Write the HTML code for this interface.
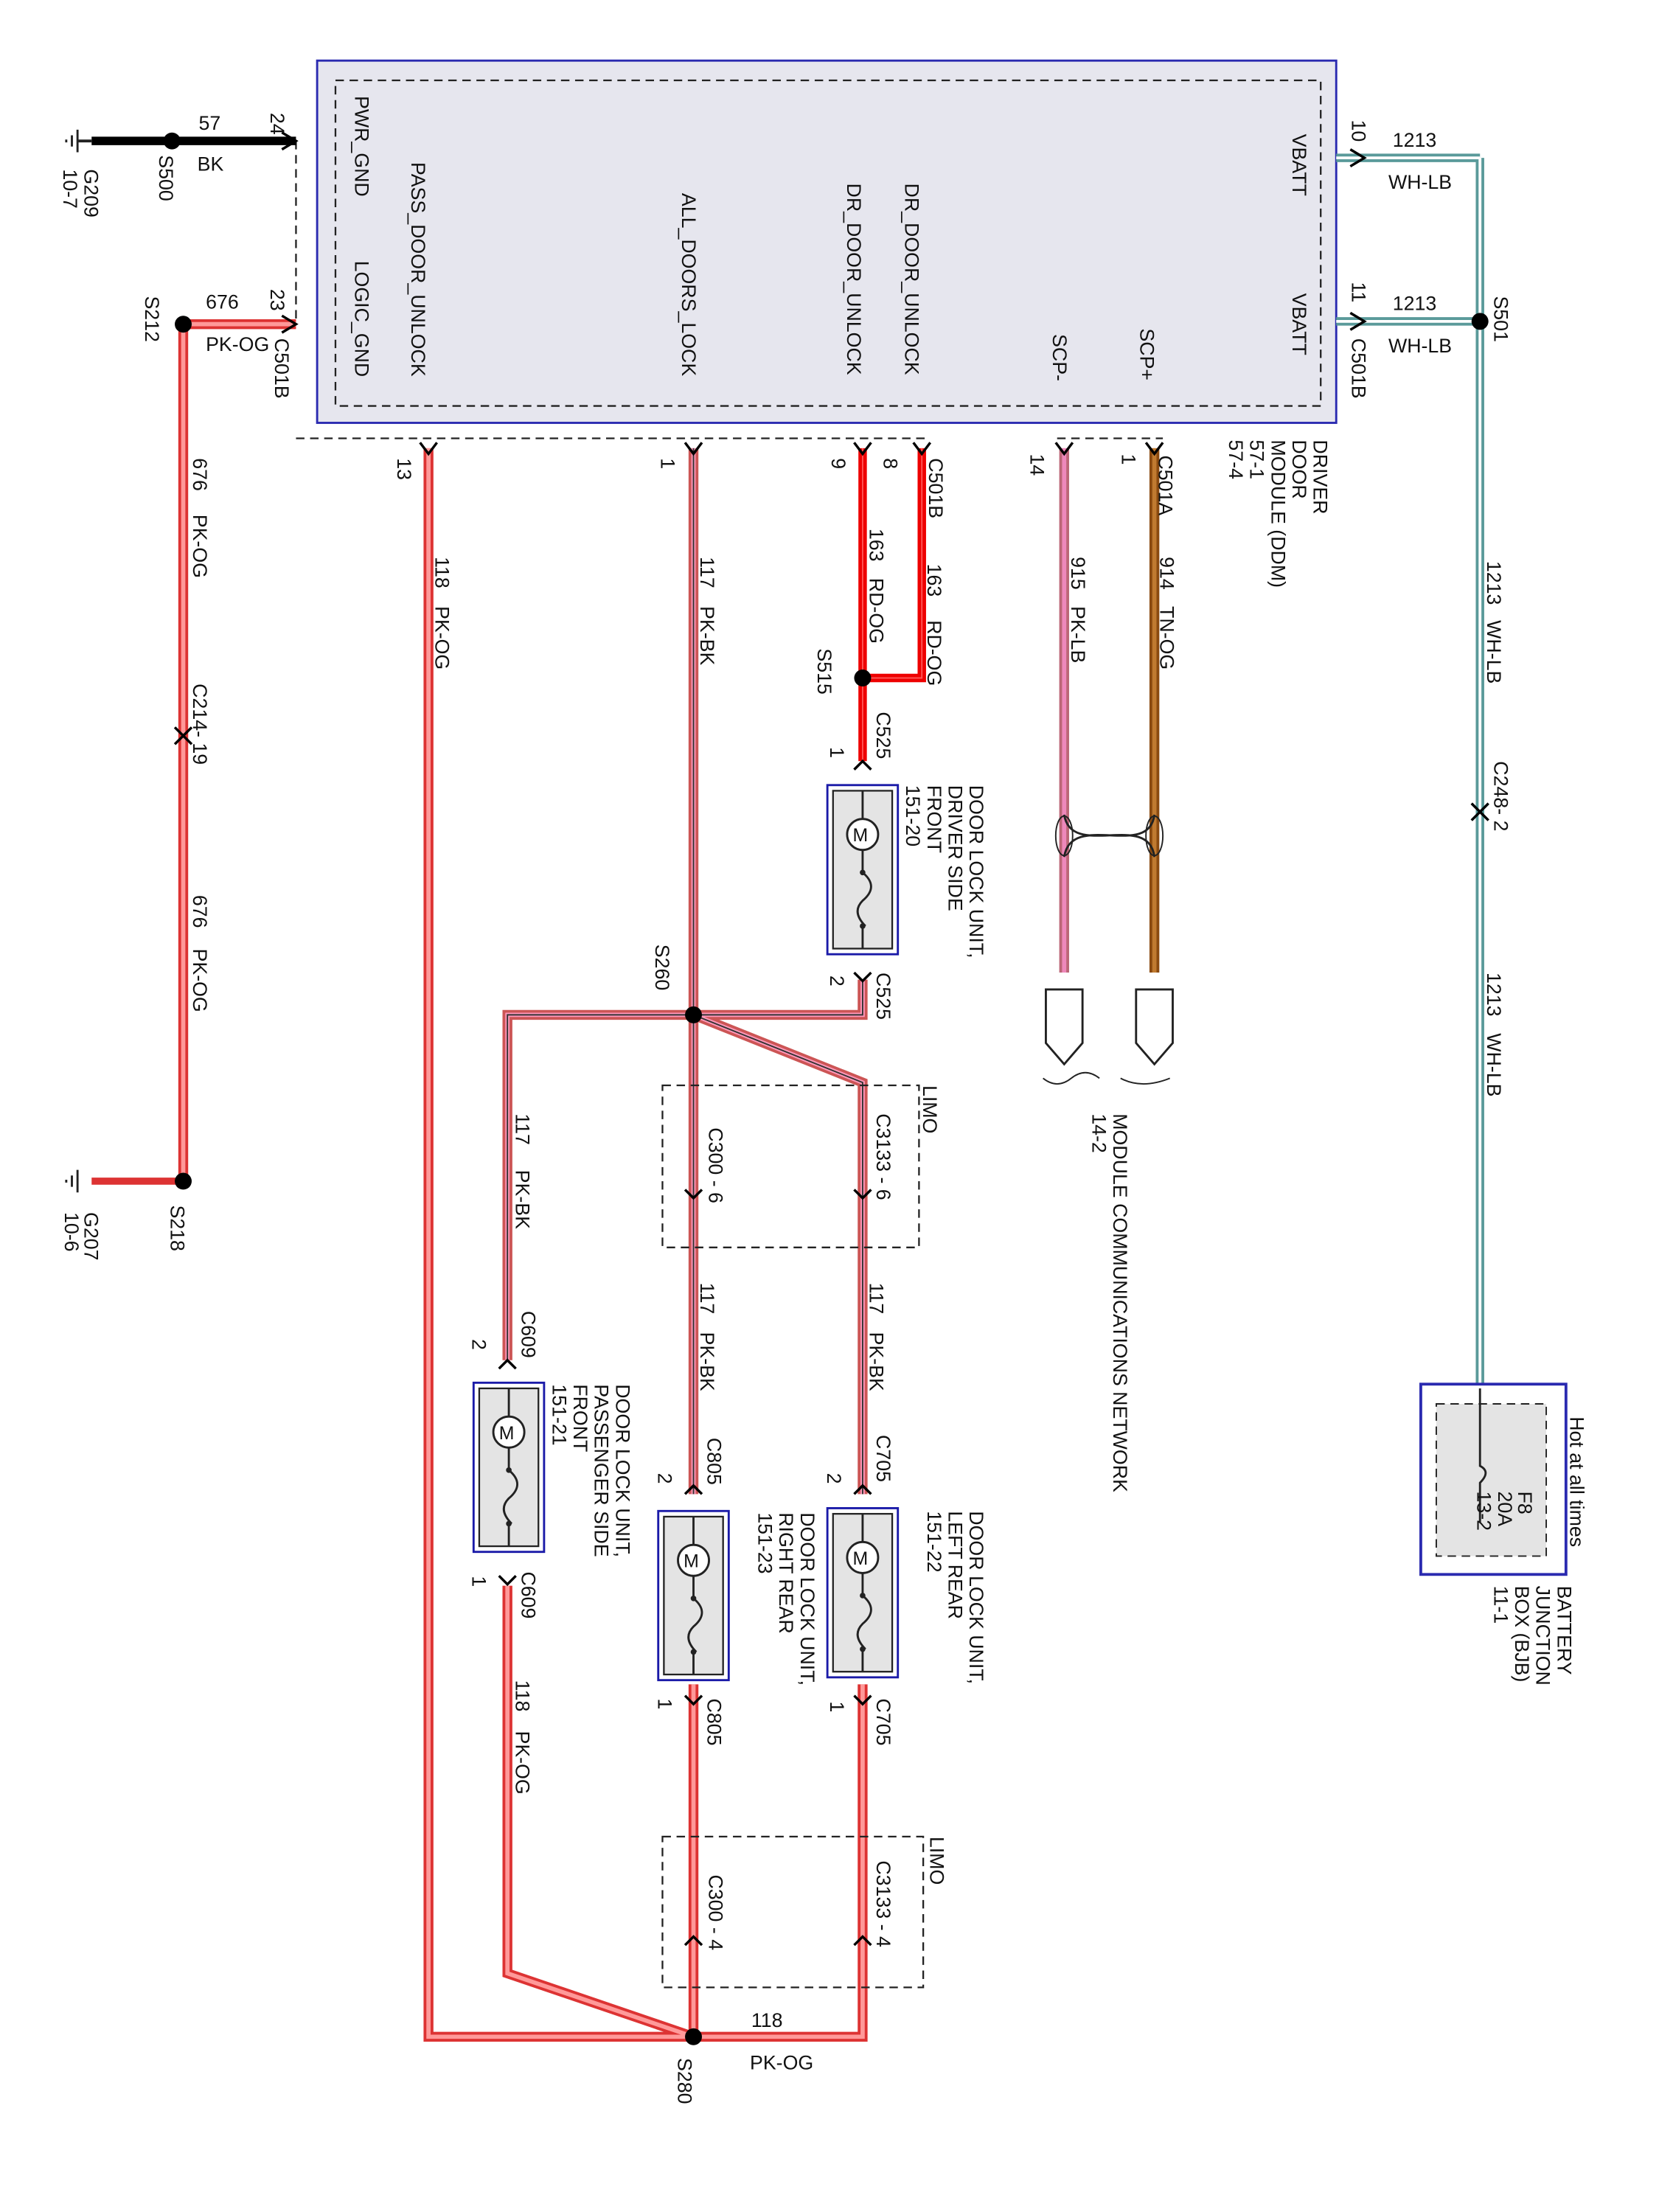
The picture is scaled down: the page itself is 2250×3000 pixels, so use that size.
<!DOCTYPE html>
<html><head><meta charset="utf-8"><style>
html,body{margin:0;padding:0;background:#fff}
svg{display:block}
text{font-family:"Liberation Sans",Arial,sans-serif;font-size:14px;fill:#111}
</style></head><body>
<svg width="2250" height="3000" viewBox="0 0 1177 1569" preserveAspectRatio="xMinYMin meet" xmlns="http://www.w3.org/2000/svg">
<defs>
<g id="dev">
<rect x="0" y="0" width="50" height="120" fill="#fff" stroke="#1a1aa8" stroke-width="1.5"/>
<rect x="4" y="4" width="42" height="112" fill="#e4e4e4" stroke="#222" stroke-width="1.2"/>
<circle cx="25" cy="35" r="11" fill="#fff" stroke="#222" stroke-width="1.5"/>
<text x="18" y="40" style="font-size:13px">M</text>
<path d="M25 4 V24 M25 46 V62 M25 62 q12 10 0 20 q-8 8 2 18 M25 100 V116" fill="none" stroke="#222" stroke-width="1.5"/>
<circle cx="25" cy="62" r="2" fill="#222"/><circle cx="25" cy="100" r="2" fill="#222"/>
</g>
</defs>

<rect x="225" y="43" width="723" height="257" fill="#e6e6ee" stroke="#2a2ab0" stroke-width="1.5"/>
<rect x="238" y="57" width="699" height="231" fill="none" stroke="#222" stroke-width="1.2" stroke-dasharray="6,4"/>
<path d="M210 311 H660 M750 311 H825 M210 100 V230" fill="none" stroke="#222" stroke-width="1.2" stroke-dasharray="6,4"/>

<path d="M65 100 H210" stroke="#000" stroke-width="6"/>
<path d="M55 92 V108 M51 96 V104 M47 99 V101" stroke="#222" stroke-width="1.5"/>
<path d="M55 100 H65" stroke="#222" stroke-width="2"/>
<g fill="none" stroke-linejoin="miter">
<path d="M130 230 H210 M130 230 V838" stroke="#d33" stroke-width="7"/>
<path d="M130 230 H210 M130 230 V838" stroke="#f99" stroke-width="3"/>
<path d="M65 838 H130" stroke="#d33" stroke-width="5"/>
<path d="M55 830 V846 M51 834 V842 M47 837 V839" stroke="#222" stroke-width="1.5"/>
<path d="M304 318 V1445 H612 V1195 M492 1445 V1195 M360 1125 V1400 L492 1445" stroke="#d33" stroke-width="7"/>
<path d="M304 318 V1445 H612 V1195 M492 1445 V1195 M360 1125 V1400 L492 1445" stroke="#f99" stroke-width="3"/>
<path d="M492 318 V1060 M360 965 V720 H612 V695 M492 720 L612 768 V1060" stroke="#c55" stroke-width="7"/>
<path d="M492 318 V1060 M360 965 V720 H612 V695 M492 720 L612 768 V1060" stroke="#f9b" stroke-width="3"/>
<path d="M492 318 V1060 M360 965 V720 H612 V695 M492 720 L612 768 V1060" stroke="#333" stroke-width="1"/>
<path d="M612 318 V540 M654 318 V481 H612" stroke="#e00" stroke-width="6"/>
<path d="M612 318 V540 M654 318 V481 H612" stroke="#f55" stroke-width="1"/>
<path d="M755 318 V690" stroke="#b67" stroke-width="7"/>
<path d="M755 318 V690" stroke="#e8b" stroke-width="3"/>
<path d="M819 318 V690" stroke="#8a4a10" stroke-width="7"/>
<path d="M819 318 V690" stroke="#c07a30" stroke-width="3"/>
<path d="M755 578 C760 610 815 575 819 608 M819 578 C815 610 760 575 755 608" stroke="#222" stroke-width="1.5"/>
<ellipse cx="755" cy="593" rx="6" ry="14" stroke="#222"/>
<ellipse cx="819" cy="593" rx="6" ry="14" stroke="#222"/>
<path d="M948 112 H1050 M948 228 H1050 M1050 112 V985" stroke="#5a9a9a" stroke-width="6"/>
<path d="M948 112 H1050 M948 228 H1050 M1050 112 V985" stroke="#fff" stroke-width="2"/>
</g>

<path d="M742 702 H768 V740 L755 755 L742 740 Z M806 702 H832 V740 L819 755 L806 740 Z" fill="#fff" stroke="#222" stroke-width="1.5"/>
<path d="M740 765 q10 8 20 0 q10 -8 20 0 M795 765 q15 8 35 0" fill="none" stroke="#222"/>

<g fill="none" stroke="#000" stroke-width="1.8">
<path d="M200 94 L210 100 L200 106 M200 224 L210 230 L200 236"/>
<path d="M298 314 L304 322 L310 314 M486 314 L492 322 L498 314 M606 314 L612 322 L618 314 M648 314 L654 322 L660 314 M749 314 L755 322 L761 314 M813 314 L819 322 L825 314"/>
<path d="M958 106 L968 112 L958 118 M958 222 L968 228 L958 234"/>
<path d="M124 516 L130 522 L136 516 M124 528 L130 522 L136 528"/>
<path d="M1044 570 L1050 576 L1056 570 M1044 582 L1050 576 L1056 582"/>
<path d="M606 546 L612 540 L618 546 M606 690 L612 696 L618 690"/>
<path d="M486 844 L492 850 L498 844 M606 844 L612 850 L618 844"/>
<path d="M354 971 L360 965 L366 971 M354 1118 L360 1124 L366 1118"/>
<path d="M486 1060 L492 1054 L498 1060 M606 1060 L612 1054 L618 1060"/>
<path d="M486 1203 L492 1209 L498 1203 M606 1203 L612 1209 L618 1203"/>
<path d="M486 1380 L492 1374 L498 1380 M606 1380 L612 1374 L618 1380"/>
</g>

<g fill="#000">
<circle cx="122" cy="100" r="6"/><circle cx="130" cy="230" r="6"/><circle cx="130" cy="838" r="6"/>
<circle cx="612" cy="481" r="6"/><circle cx="492" cy="720" r="6"/><circle cx="492" cy="1445" r="6"/>
<circle cx="1050" cy="228" r="6"/>
</g>

<use href="#dev" x="587" y="557"/>
<use href="#dev" x="336" y="981"/>
<use href="#dev" x="467" y="1072"/>
<use href="#dev" x="587" y="1070"/>

<rect x="470" y="770" width="182" height="115" fill="none" stroke="#222" stroke-dasharray="6,4" stroke-width="1.2"/>
<rect x="470" y="1303" width="185" height="107" fill="none" stroke="#222" stroke-dasharray="6,4" stroke-width="1.2"/>

<rect x="1008" y="982" width="103" height="135" fill="#fff" stroke="#2a2ab0" stroke-width="2"/>
<rect x="1019" y="996" width="78" height="108" fill="#e4e4e4" stroke="#222" stroke-dasharray="6,4"/>
<path d="M1050 985 V1040 q8 4 0 12 V1080" fill="none" stroke="#222" stroke-width="1.5"/>

<text x="141" y="92">57</text><text x="140" y="121">BK</text>
<text x="146" y="219">676</text><text x="146" y="249">PK-OG</text>
<text x="988" y="104">1213</text><text x="985" y="134">WH-LB</text>
<text x="988" y="220">1213</text><text x="985" y="250">WH-LB</text>
<text x="533" y="1438">118</text><text x="532" y="1468">PK-OG</text>

<g>
<text transform="translate(252,68) rotate(90)">PWR_GND</text>
<text transform="translate(252,185) rotate(90)">LOGIC_GND</text>
<text transform="translate(292,115) rotate(90)">PASS_DOOR_UNLOCK</text>
<text transform="translate(484,137) rotate(90)">ALL_DOORS_LOCK</text>
<text transform="translate(601,130) rotate(90)">DR_DOOR_UNLOCK</text>
<text transform="translate(642,130) rotate(90)">DR_DOOR_UNLOCK</text>
<text transform="translate(747,237) rotate(90)">SCP-</text>
<text transform="translate(809,233) rotate(90)">SCP+</text>
<text transform="translate(917,95) rotate(90)">VBATT</text>
<text transform="translate(917,208) rotate(90)">VBATT</text>

<text transform="translate(60,120) rotate(90)">G209</text>
<text transform="translate(45,120) rotate(90)">10-7</text>
<text transform="translate(113,110) rotate(90)">S500</text>
<text transform="translate(192,80) rotate(90)">24</text>
<text transform="translate(192,205) rotate(90)">23</text>
<text transform="translate(103,210) rotate(90)">S212</text>
<text transform="translate(195,240) rotate(90)">C501B</text>
<text transform="translate(137,325) rotate(90)">676</text>
<text transform="translate(137,365) rotate(90)">PK-OG</text>
<text transform="translate(137,485) rotate(90)">C214- 19</text>
<text transform="translate(137,635) rotate(90)">676</text>
<text transform="translate(137,673) rotate(90)">PK-OG</text>
<text transform="translate(121,855) rotate(90)">S218</text>
<text transform="translate(60,860) rotate(90)">G207</text>
<text transform="translate(46,860) rotate(90)">10-6</text>

<text transform="translate(282,325) rotate(90)">13</text>
<text transform="translate(309,395) rotate(90)">118</text>
<text transform="translate(309,430) rotate(90)">PK-OG</text>
<text transform="translate(469,325) rotate(90)">1</text>
<text transform="translate(497,395) rotate(90)">117</text>
<text transform="translate(497,430) rotate(90)">PK-BK</text>
<text transform="translate(590,325) rotate(90)">9</text>
<text transform="translate(627,325) rotate(90)">8</text>
<text transform="translate(659,325) rotate(90)">C501B</text>
<text transform="translate(617,375) rotate(90)">163</text>
<text transform="translate(617,410) rotate(90)">RD-OG</text>
<text transform="translate(658,400) rotate(90)">163</text>
<text transform="translate(658,440) rotate(90)">RD-OG</text>
<text transform="translate(580,460) rotate(90)">S515</text>
<text transform="translate(622,505) rotate(90)">C525</text>
<text transform="translate(589,530) rotate(90)">1</text>
<text transform="translate(688,557) rotate(90)">DOOR LOCK UNIT,</text>
<text transform="translate(673,557) rotate(90)">DRIVER SIDE</text>
<text transform="translate(658,557) rotate(90)">FRONT</text>
<text transform="translate(643,557) rotate(90)">151-20</text>
<text transform="translate(589,692) rotate(90)">2</text>
<text transform="translate(622,690) rotate(90)">C525</text>
<text transform="translate(465,670) rotate(90)">S260</text>

<text transform="translate(731,322) rotate(90)">14</text>
<text transform="translate(796,322) rotate(90)">1</text>
<text transform="translate(822,323) rotate(90)">C501A</text>
<text transform="translate(760,395) rotate(90)">915</text>
<text transform="translate(760,430) rotate(90)">PK-LB</text>
<text transform="translate(823,395) rotate(90)">914</text>
<text transform="translate(823,430) rotate(90)">TN-OG</text>
<text transform="translate(932,312) rotate(90)">DRIVER</text>
<text transform="translate(917,312) rotate(90)">DOOR</text>
<text transform="translate(902,312) rotate(90)">MODULE (DDM)</text>
<text transform="translate(887,312) rotate(90)">57-1</text>
<text transform="translate(872,312) rotate(90)">57-4</text>
<text transform="translate(790,790) rotate(90)">MODULE COMMUNICATIONS NETWORK</text>
<text transform="translate(775,790) rotate(90)">14-2</text>

<text transform="translate(655,770) rotate(90)">LIMO</text>
<text transform="translate(622,790) rotate(90)">C3133 - 6</text>
<text transform="translate(503,800) rotate(90)">C300 - 6</text>
<text transform="translate(366,790) rotate(90)">117</text>
<text transform="translate(366,830) rotate(90)">PK-BK</text>
<text transform="translate(497,910) rotate(90)">117</text>
<text transform="translate(497,945) rotate(90)">PK-BK</text>
<text transform="translate(617,910) rotate(90)">117</text>
<text transform="translate(617,945) rotate(90)">PK-BK</text>

<text transform="translate(370,930) rotate(90)">C609</text>
<text transform="translate(335,950) rotate(90)">2</text>
<text transform="translate(437,982) rotate(90)">DOOR LOCK UNIT,</text>
<text transform="translate(422,982) rotate(90)">PASSENGER SIDE</text>
<text transform="translate(407,982) rotate(90)">FRONT</text>
<text transform="translate(392,982) rotate(90)">151-21</text>
<text transform="translate(335,1118) rotate(90)">1</text>
<text transform="translate(370,1115) rotate(90)">C609</text>
<text transform="translate(366,1192) rotate(90)">118</text>
<text transform="translate(366,1228) rotate(90)">PK-OG</text>

<text transform="translate(502,1020) rotate(90)">C805</text>
<text transform="translate(467,1045) rotate(90)">2</text>
<text transform="translate(568,1073) rotate(90)">DOOR LOCK UNIT,</text>
<text transform="translate(553,1073) rotate(90)">RIGHT REAR</text>
<text transform="translate(538,1073) rotate(90)">151-23</text>
<text transform="translate(622,1018) rotate(90)">C705</text>
<text transform="translate(587,1045) rotate(90)">2</text>
<text transform="translate(688,1072) rotate(90)">DOOR LOCK UNIT,</text>
<text transform="translate(673,1072) rotate(90)">LEFT REAR</text>
<text transform="translate(658,1072) rotate(90)">151-22</text>
<text transform="translate(467,1205) rotate(90)">1</text>
<text transform="translate(502,1205) rotate(90)">C805</text>
<text transform="translate(589,1207) rotate(90)">1</text>
<text transform="translate(622,1205) rotate(90)">C705</text>

<text transform="translate(660,1303) rotate(90)">LIMO</text>
<text transform="translate(622,1320) rotate(90)">C3133 - 4</text>
<text transform="translate(503,1330) rotate(90)">C300 - 4</text>
<text transform="translate(481,1460) rotate(90)">S280</text>

<text transform="translate(959,85) rotate(90)">10</text>
<text transform="translate(959,200) rotate(90)">11</text>
<text transform="translate(1060,210) rotate(90)">S501</text>
<text transform="translate(959,240) rotate(90)">C501B</text>
<text transform="translate(1055,398) rotate(90)">1213</text>
<text transform="translate(1055,440) rotate(90)">WH-LB</text>
<text transform="translate(1060,540) rotate(90)">C248- 2</text>
<text transform="translate(1055,690) rotate(90)">1213</text>
<text transform="translate(1055,733) rotate(90)">WH-LB</text>
<text transform="translate(1114,1005) rotate(90)">Hot at all times</text>
<text transform="translate(1077,1058) rotate(90)">F8</text>
<text transform="translate(1063,1058) rotate(90)">20A</text>
<text transform="translate(1048,1058) rotate(90)">13-2</text>
<text transform="translate(1105,1125) rotate(90)">BATTERY</text>
<text transform="translate(1090,1125) rotate(90)">JUNCTION</text>
<text transform="translate(1075,1125) rotate(90)">BOX (BJB)</text>
<text transform="translate(1060,1125) rotate(90)">11-1</text>
</g>
</svg>
</body></html>
